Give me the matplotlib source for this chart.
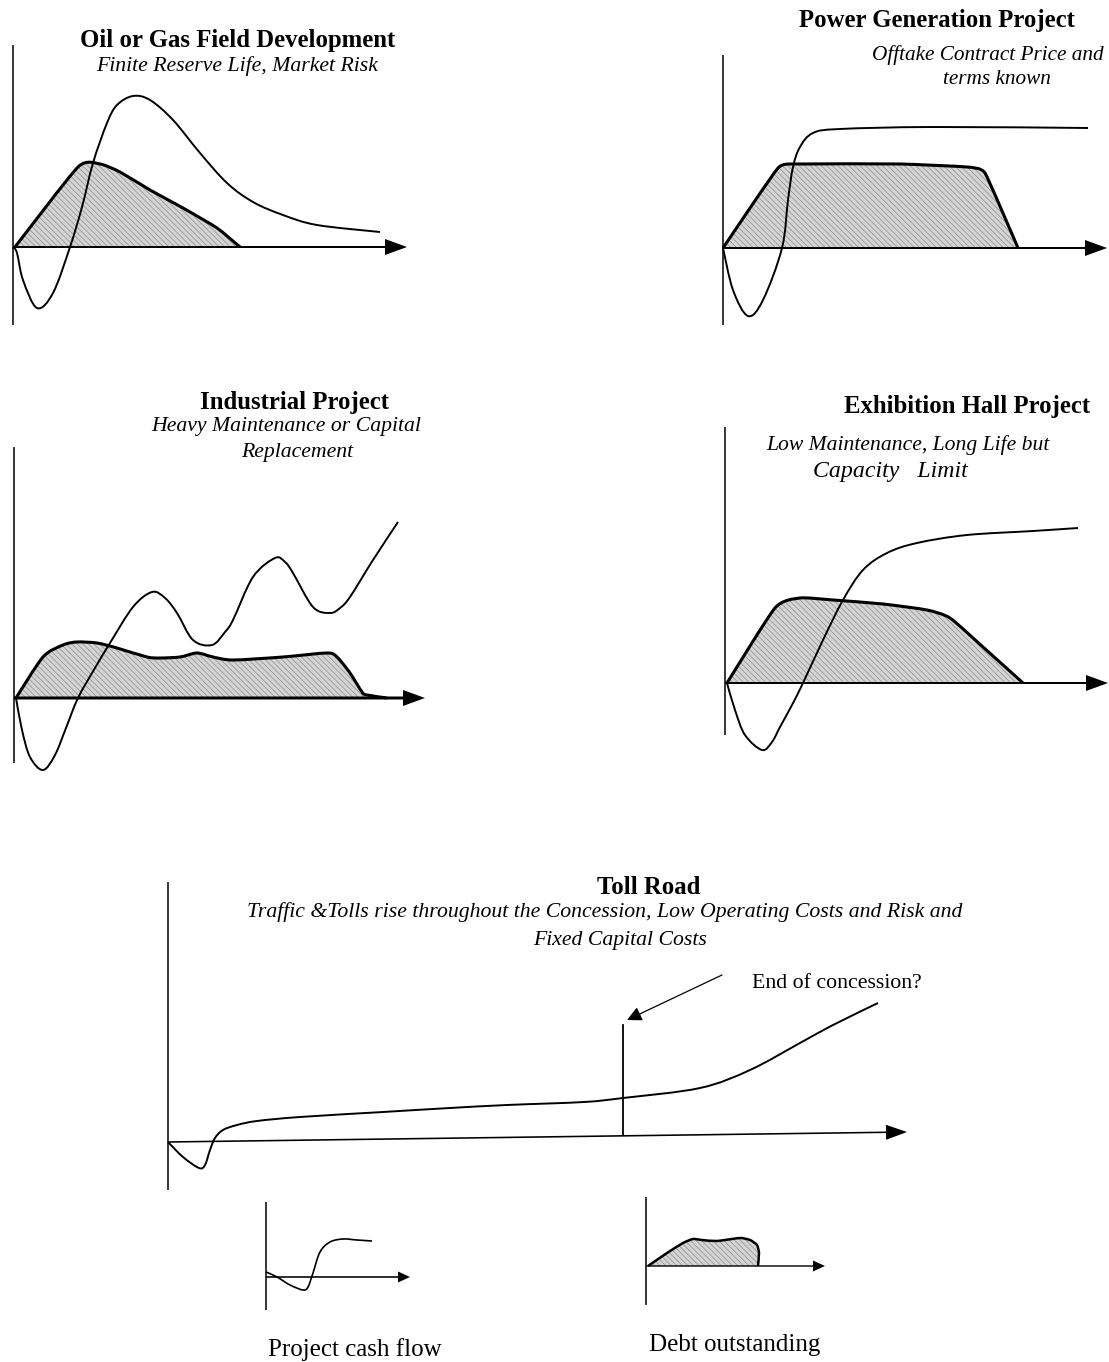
import numpy as np
import matplotlib.pyplot as plt
from matplotlib.path import Path
from matplotlib.patches import PathPatch

W, H = 1109, 1362

# Each panel: x = time from the origin, y = value above the time axis
# (units are pixels of the original drawing)

# Oil or gas field
oil_cash_x = [0, 4, 10, 24, 40, 57, 69, 80, 94, 104, 120, 137, 160, 187, 214, 240, 270, 304, 367]
oil_cash_y = [0, -6, -33, -61, -46, 0, 40, 84, 124, 142, 151, 147, 127, 94, 64, 45, 32, 22, 15]
oil_debt_x = [2, 65, 87, 107, 137, 170, 204, 227]
oil_debt_y = [0, 80, 83, 75, 57, 39, 19, 0]

# Power generation
pow_cash_x = [0, 10, 25, 40, 59, 65, 70, 77, 90, 117, 210, 365]
pow_cash_y = [0, -42, -68, -52, 0, 48, 81, 101, 115, 119, 121, 120]
pow_debt_x = [0, 55, 77, 177, 244, 262, 295]
pow_debt_y = [0, 80, 84, 84, 81, 75, 0]

# Industrial
ind_cash_x = [2, 8, 16, 29, 41, 52, 64, 81, 96, 119, 138, 151, 163, 179, 198, 211, 219,
              239, 261, 271, 279, 299, 316, 326, 336, 359, 384]
ind_cash_y = [0, -32, -59, -72, -57, -30, 0, 30, 55, 91, 106, 100, 85, 58, 53, 66, 78,
              121, 140, 136, 125, 91, 85, 90, 101, 138, 176]
ind_debt_x = [2, 29, 49, 63, 83, 103, 133, 146, 166, 183, 199, 219, 269, 313, 323, 336, 348, 353, 373]
ind_debt_y = [0, 41, 53, 56, 55, 50, 41, 40, 41, 45, 41, 38, 41, 45, 41, 25, 6, 3, 0]

# Exhibition hall
exh_cash_x = [2, 10, 20, 37, 47, 55, 67, 78, 98, 118, 138, 162, 192, 242, 308, 353]
exh_cash_y = [0, -27, -52, -67, -59, -44, -22, 0, 43, 83, 113, 130, 140, 148, 152, 155]
exh_debt_x = [2, 50, 75, 108, 158, 202, 225, 258, 298]
exh_debt_y = [0, 75, 85, 83, 79, 73, 65, 36, 0]

# Toll road
toll_cash_x = [0, 15, 31, 37, 42, 47, 55, 69, 89, 132, 215, 282, 339, 416, 455, 532, 582, 632, 665, 710]
toll_cash_y = [0, -15, -26, -23, -8, 4, 12, 17, 21, 25, 30, 34, 37, 40, 44, 54, 72, 99, 117, 139]
toll_end_x = 455

# small sketches under the toll road
sm_cash_x = [0, 11, 24, 37, 42, 47, 54, 64, 77, 91, 106]
sm_cash_y = [5, 0, -8, -13, -10, 4, 25, 35, 38, 37, 36]
sm_debt_x = [2, 21, 37, 47, 56, 71, 94, 104, 111, 113, 112]
sm_debt_y = [0, 13, 23, 27, 26, 25, 28, 26, 21, 13, 0]

plt.rcParams['font.family'] = ['Liberation Serif', 'DejaVu Serif']
plt.rcParams['hatch.linewidth'] = 0.5

fig = plt.figure(figsize=(W / 100, H / 100), dpi=100)

TITLE = 17.8
SUB = 15.7


def panel(ox, oy, left, top, right, bottom):
    # axes over a pixel box of the page, data origin at pixel (ox, oy)
    ax = fig.add_axes([left / W, 1 - bottom / H, (right - left) / W, (bottom - top) / H])
    ax.set_xlim(left - ox, right - ox)
    ax.set_ylim(oy - bottom, oy - top)
    ax.axis('off')
    return ax


def smooth_path(x, y, k=1.0, close=False):
    # bezier curve through the read points (catmull-rom style handles)
    pts = np.column_stack([x, y]).astype(float)
    n = len(pts)
    verts = [pts[0]]
    codes = [Path.MOVETO]
    for i in range(n - 1):
        p0, p1 = pts[max(i - 1, 0)], pts[i]
        p2, p3 = pts[i + 1], pts[min(i + 2, n - 1)]
        verts += [p1 + (p2 - p0) / 6 * k, p2 - (p3 - p1) / 6 * k, p2]
        codes += [Path.CURVE4] * 3
    if close:
        verts.append(pts[0])
        codes.append(Path.CLOSEPOLY)
    return Path(verts, codes)


def draw_axes(ax, y_top, y_bot, x_tip, tip_dy=0, shaft=2.0, head_w=16, head_l=22):
    ax.plot([0, 0], [y_bot, y_top], color='black', lw=1.1, solid_capstyle='butt')
    ax.arrow(0, 0, x_tip, tip_dy, width=shaft, head_width=head_w, head_length=head_l,
             length_includes_head=True, color='black', lw=0)


def draw_debt(ax, x, y, lw=2.2, k=0.6):
    ax.add_patch(PathPatch(smooth_path(x, y, k, close=True), facecolor='#d4d4d4',
                           edgecolor='#8e8e8e', hatch='\\\\\\\\\\\\', lw=0))
    ax.add_patch(PathPatch(smooth_path(x, y, k), fill=False, edgecolor='black', lw=lw,
                           joinstyle='round'))


def draw_cash(ax, x, y, lw=1.4):
    ax.add_patch(PathPatch(smooth_path(x, y), fill=False, edgecolor='black', lw=lw,
                           joinstyle='round'))


def label(x, y, s, size=SUB, **kw):
    fig.text(x / W, 1 - y / H, s, ha=kw.pop('ha', 'center'), va='center', fontsize=size, **kw)


# Oil or gas
ax = panel(13, 247, 0, 40, 420, 340)
draw_debt(ax, oil_debt_x, oil_debt_y)
draw_axes(ax, 202, -78, 394)
draw_cash(ax, oil_cash_x, oil_cash_y)
label(238, 40, 'Oil or Gas Field Development', TITLE, fontweight='bold')
label(237, 66, 'Finite Reserve Life, Market Risk', SUB, style='italic')

# Power generation
ax = panel(723, 248, 700, 40, 1109, 340)
draw_debt(ax, pow_debt_x, pow_debt_y, k=0.4)
draw_axes(ax, 193, -77, 384)
draw_cash(ax, pow_cash_x, pow_cash_y)
label(937, 20, 'Power Generation Project', TITLE, fontweight='bold')
label(988, 55, 'Offtake Contract Price and', 15.3, style='italic')
label(997, 79, 'terms known', 15.3, style='italic')

# Industrial
ax = panel(14, 698, 0, 430, 440, 780)
draw_debt(ax, ind_debt_x, ind_debt_y, k=0.8)
draw_axes(ax, 251, -65, 411, shaft=3.0)
draw_cash(ax, ind_cash_x, ind_cash_y)
label(295, 402, 'Industrial Project', TITLE, fontweight='bold')
label(286, 426, 'Heavy Maintenance or Capital', SUB, style='italic')
label(297, 452, 'Replacement', SUB, style='italic')

# Exhibition hall
ax = panel(725, 683, 700, 420, 1109, 770)
draw_debt(ax, exh_debt_x, exh_debt_y)
draw_axes(ax, 256, -52, 383)
draw_cash(ax, exh_cash_x, exh_cash_y)
label(967, 406, 'Exhibition Hall Project', TITLE, fontweight='bold')
label(908, 445, 'Low Maintenance, Long Life but', 15.6, style='italic')
label(890, 472, 'Capacity   Limit', 17.2, style='italic')

# Toll road
ax = panel(168, 1142, 150, 870, 950, 1200)
draw_axes(ax, 260, -48, 739, tip_dy=10, shaft=1.6, head_w=15, head_l=21)
ax.plot([toll_end_x, toll_end_x], [7, 117], color='black', lw=1.3)
draw_cash(ax, toll_cash_x, toll_cash_y)
ax.annotate('', xy=(toll_end_x + 4, 122), xytext=(554, 167),
            arrowprops=dict(arrowstyle='-|>', color='black', lw=0.9,
                            mutation_scale=22, shrinkA=0, shrinkB=0))
label(649, 888, 'Toll Road', TITLE, fontweight='bold')
label(605, 912, 'Traffic &Tolls rise throughout the Concession, Low Operating Costs and Risk and',
      SUB, style='italic')
label(620, 940, 'Fixed Capital Costs', SUB, style='italic')
label(752, 983, 'End of concession?', SUB, ha='left')

# small sketches
ax = panel(266, 1277, 250, 1195, 440, 1320)
draw_axes(ax, 75, -33, 144, shaft=1.6, head_w=11, head_l=12)
draw_cash(ax, sm_cash_x, sm_cash_y, lw=1.2)
label(355, 1350, 'Project cash flow', 18)

ax = panel(646, 1266, 630, 1190, 840, 1320)
draw_debt(ax, sm_debt_x, sm_debt_y, lw=1.8)
draw_axes(ax, 69, -39, 179, shaft=1.4, head_w=11, head_l=12)
label(735, 1345, 'Debt outstanding', 18)

fig.savefig('out.png', dpi=100, facecolor='white')
